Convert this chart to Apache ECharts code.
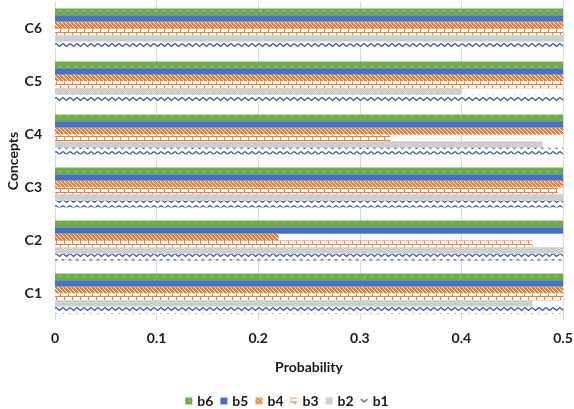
<!DOCTYPE html>
<html><head><meta charset="utf-8">
<script src="https://cdn.jsdelivr.net/npm/echarts@6/dist/echarts.min.js"></script>
<style>html,body{margin:0;padding:0;background:#fff}#c{width:574px;height:409px}</style>
</head><body><div id="c"></div>
<script>
const categories = ['C1','C2','C3','C4','C5','C6'];
const seriesNames = ['b6','b5','b4','b3','b2','b1'];
const b1 = [0.5, 0.5, 0.5, 0.5, 0.5, 0.5];
const b2 = [0.47, 0.5, 0.5, 0.48, 0.4, 0.5];
const b3 = [0.5, 0.47, 0.495, 0.33, 0.5, 0.5];
const b4 = [0.5, 0.22, 0.5, 0.5, 0.5, 0.5];
const b5 = [0.5, 0.5, 0.5, 0.5, 0.5, 0.5];
const b6 = [0.5, 0.5, 0.5, 0.5, 0.5, 0.5];
const xTicks = [0, 0.1, 0.2, 0.3, 0.4, 0.5];
const legendOrder = ['b6','b5','b4','b3','b2','b1'];

function mk(w,h,draw){const c=document.createElement('canvas');c.width=w;c.height=h;const g=c.getContext('2d');draw(g,w,h);return {image:c,repetition:'repeat'};}
const pat = {
  b6: mk(8,7,(g)=>{g.fillStyle='#70AD47';g.fillRect(0,0,8,7);g.fillStyle='#E2F0D9';g.fillRect(4,3,1,1);}),
  b5: '#4472C4',
  b4: mk(4,4,(g)=>{g.fillStyle='#ffffff';g.fillRect(0,0,4,4);g.fillStyle='#ED7D31';for(let y=0;y<4;y++)for(let x=0;x<4;x++){if(((x-y)%4+4)%4<3)g.fillRect(x,y,1,1);}}),
  b3: mk(8,8,(g)=>{g.fillStyle='#ffffff';g.fillRect(0,0,8,8);g.fillStyle='#ED7D31';g.fillRect(0,0,8,1);g.fillRect(0,4,8,1);g.fillRect(0,1,1,3);g.fillRect(4,5,1,3);}),
  b2: mk(2,2,(g)=>{g.fillStyle='#D9D9D9';g.fillRect(0,0,2,2);g.fillStyle='#C4C4C4';g.fillRect(0,0,1,1);g.fillRect(1,1,1,1);}),
  b1: mk(7,6,(g)=>{g.fillStyle='#ffffff';g.fillRect(0,0,7,6);g.strokeStyle='#2F5597';g.lineWidth=1.3;g.beginPath();g.moveTo(0,1.5);g.lineTo(3.5,4.5);g.lineTo(7,1.5);g.stroke();})
};
const dataMap = {b1,b2,b3,b4,b5,b6};
const FONT = 'Lato';
const TXT = {fontFamily:FONT,fontWeight:'bold',fontSize:14,color:'#1a1a1a'};
const chart = echarts.init(document.getElementById('c'), null, {renderer:'canvas'});
chart.setOption({
  animation:false,
  textStyle:{fontFamily:FONT},
  grid:{left:55,right:11,top:2,bottom:89,containLabel:false,outerBoundsMode:'none'},
  legend:{data:legendOrder,top:389,left:'center',itemWidth:7,itemHeight:7,itemGap:7,
    textStyle:TXT,icon:'rect'},
  xAxis:{type:'value',min:0,max:0.5,interval:0.1,
    axisLine:{show:false},axisTick:{show:false},
    splitLine:{lineStyle:{color:'#D9D9D9',width:1}},
    axisLabel:Object.assign({margin:11,
      formatter:(v)=>{const t=xTicks.find(x=>Math.abs(x-v)<1e-9);return t===undefined?'':String(t);}},TXT),
    name:'Probability',nameLocation:'middle',nameGap:40,nameMoveOverlap:false,nameTextStyle:TXT},
  yAxis:{type:'category',data:categories,
    axisLine:{show:true,lineStyle:{color:'#D9D9D9'}},axisTick:{show:false},
    axisLabel:Object.assign({margin:13},TXT),
    name:'Concepts',nameLocation:'middle',nameGap:35,nameMoveOverlap:false,nameTextStyle:TXT},
  series:seriesNames.map(n=>({name:n,type:'bar',data:dataMap[n],barGap:'0%',barCategoryGap:'24.5%',
    itemStyle:{color:pat[n]}}))
});
</script></body></html>
